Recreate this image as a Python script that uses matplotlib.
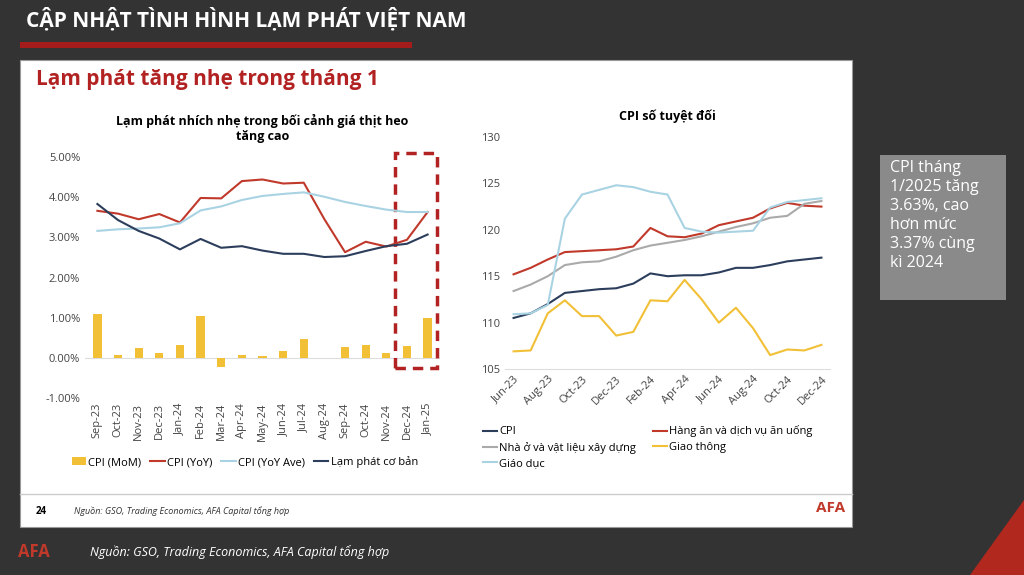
import matplotlib
matplotlib.use("Agg")
import matplotlib.pyplot as plt
from matplotlib.patches import Rectangle, Polygon
import numpy as np

plt.rcParams['font.family'] = ['Open Sans', 'DejaVu Sans']

months_l = ["Sep-23","Oct-23","Nov-23","Dec-23","Jan-24","Feb-24","Mar-24","Apr-24","May-24",
            "Jun-24","Jul-24","Aug-24","Sep-24","Oct-24","Nov-24","Dec-24","Jan-25"]
cpi_mom = [1.08,0.08,0.25,0.13,0.31,1.04,-0.23,0.07,0.05,0.17,0.48,0.0,0.27,0.33,0.13,0.29,0.98]
cpi_yoy = [3.66,3.59,3.45,3.58,3.37,3.98,3.97,4.40,4.44,4.34,4.36,3.45,2.63,2.89,2.77,2.94,3.63]
cpi_yoy_ave = [3.16,3.20,3.22,3.25,3.35,3.67,3.77,3.93,4.03,4.08,4.12,4.01,3.88,3.78,3.69,3.63,3.63]
core = [3.83,3.43,3.16,2.97,2.70,2.96,2.74,2.78,2.67,2.59,2.59,2.51,2.53,2.66,2.78,2.84,3.07]

months_r = ["Jun-23","Jul-23","Aug-23","Sep-23","Oct-23","Nov-23","Dec-23","Jan-24","Feb-24","Mar-24",
            "Apr-24","May-24","Jun-24","Jul-24","Aug-24","Sep-24","Oct-24","Nov-24","Dec-24"]
cpi_abs = [110.5,111.0,112.0,113.2,113.4,113.6,113.7,114.2,115.3,115.0,115.1,115.1,115.4,115.9,115.9,116.2,116.6,116.8,117.0]
food = [115.2,115.9,116.8,117.6,117.7,117.8,117.9,118.2,120.2,119.3,119.2,119.6,120.5,120.9,121.3,122.3,122.9,122.6,122.5]
housing = [113.4,114.1,115.0,116.2,116.5,116.6,117.1,117.8,118.3,118.6,118.9,119.3,119.8,120.3,120.7,121.3,121.5,122.8,123.1]
transport = [106.9,107.0,111.0,112.4,110.7,110.7,108.6,109.0,112.4,112.3,114.6,112.5,110.0,111.6,109.4,106.5,107.1,107.0,107.6]
education = [110.9,111.0,111.9,121.2,123.8,124.3,124.8,124.6,124.1,123.8,120.2,119.8,119.7,119.8,119.9,122.4,123.0,123.2,123.4]

W, H = 1024, 575
fig = plt.figure(figsize=(W/100, H/100), dpi=100)
fig.patch.set_facecolor("#333333")

def fx(x): return x / W
def fy(y): return 1 - y / H

def add_patch(p):
    p.set_zorder(-10)
    fig.patches.append(p)

# header
fig.text(fx(26), fy(20), "CẬP NHẬT TÌNH HÌNH LẠM PHÁT VIỆT NAM", color="white", fontsize=15,
         fontweight="bold", va="center")
add_patch(Rectangle((fx(20), fy(48)), fx(392), 6/H, transform=fig.transFigure,
                    facecolor="#a51c1c", edgecolor="none"))
# white panel
add_patch(Rectangle((fx(20), fy(527)), fx(832), 467/H, transform=fig.transFigure,
                    facecolor="white", edgecolor="#999999", lw=0.8))
fig.text(fx(36), fy(80), "Lạm phát tăng nhẹ trong tháng 1", color="#b22222", fontsize=15,
         fontweight="bold", va="center")
fig.add_artist(plt.Line2D([fx(20), fx(852)], [fy(494), fy(494)], color="#cccccc", lw=1))
fig.text(fx(36), fy(511), "24", fontsize=7, fontweight="bold", va="center")
fig.text(fx(74), fy(511), "Nguồn: GSO, Trading Economics, AFA Capital tổng hợp", fontsize=6.5,
         style="italic", va="center", color="#333333")
fig.text(fx(845), fy(508), "AFA", fontsize=11, fontweight="bold", color="#c0392b", ha="right", va="center")
# bottom
fig.text(fx(18), fy(552), "AFA", fontsize=12, fontweight="bold", color="#c0392b", va="center")
fig.text(fx(90), fy(552), "Nguồn: GSO, Trading Economics, AFA Capital tổng hợp", fontsize=9,
         style="italic", color="white", va="center")
add_patch(Polygon([(fx(970), fy(575)), (fx(1024), fy(500)), (fx(1024), fy(575))],
                  closed=True, transform=fig.transFigure, facecolor="#b0281e", edgecolor="none"))
# gray side box
add_patch(Rectangle((fx(880), fy(300)), fx(126), 145/H, transform=fig.transFigure,
                    facecolor="#8a8a8a", edgecolor="none"))
fig.text(fx(890), fy(160), "CPI tháng\n1/2025 tăng\n3.63%, cao\nhơn mức\n3.37% cùng\nkì 2024",
         color="white", fontsize=11.5, va="top", linespacing=1.25)

# left chart
ax = fig.add_axes([fx(85), fy(398), fx(355), (398-157)/H])
ax.patch.set_alpha(0)
x = np.arange(len(months_l))
b = ax.bar(x, cpi_mom, width=0.4, color="#f2c037", label="CPI (MoM)")
l1, = ax.plot(x, cpi_yoy, color="#c0392b", lw=1.5, label="CPI (YoY)")
l2, = ax.plot(x, cpi_yoy_ave, color="#a9d3e3", lw=1.5, label="CPI (YoY Ave)")
l3, = ax.plot(x, core, color="#2c3e5c", lw=1.5, label="Lạm phát cơ bản")
ax.set_ylim(-1, 5)
ax.set_xlim(-0.6, len(x) - 0.4)
ax.set_yticks(np.arange(-1, 6, 1))
ax.set_yticklabels([f"{v:.2f}%" for v in np.arange(-1, 6, 1)], fontsize=8, color="#444444")
ax.set_xticks(x)
ax.set_xticklabels(months_l, rotation=90, fontsize=8, color="#444444")
for s in ax.spines.values():
    s.set_visible(False)
ax.axhline(0, color="#dddddd", lw=0.8, zorder=0)
ax.tick_params(length=0)
ax.set_title("Lạm phát nhích nhẹ trong bối cảnh giá thịt heo\ntăng cao", fontsize=9,
             fontweight="bold", pad=12)
ax.add_patch(Rectangle((14.4, -0.25), 2.05, 5.35, fill=False, edgecolor="#b22222",
                       lw=2.5, ls=(0, (3, 2)), clip_on=False))
ax.legend([b, l1, l2, l3], ["CPI (MoM)", "CPI (YoY)", "CPI (YoY Ave)", "Lạm phát cơ bản"],
          loc="upper center", bbox_to_anchor=(0.45, -0.2), ncol=4, frameon=False,
          fontsize=8, handlelength=1.3, columnspacing=0.8, handletextpad=0.2)

# right chart
ax2 = fig.add_axes([fx(505), fy(369), fx(325), (369-137)/H])
ax2.patch.set_alpha(0)
xr = np.arange(len(months_r))
r1, = ax2.plot(xr, cpi_abs, color="#2c3e5c", lw=1.5)
r2, = ax2.plot(xr, food, color="#c0392b", lw=1.5)
r3, = ax2.plot(xr, housing, color="#aaaaaa", lw=1.5)
r4, = ax2.plot(xr, transport, color="#f2c037", lw=1.5)
r5, = ax2.plot(xr, education, color="#a9d3e3", lw=1.5)
ax2.set_ylim(105, 130)
ax2.set_yticks(range(105, 131, 5))
ax2.set_xlim(-0.5, len(xr) - 0.5)
ax2.set_xticks(xr[::2])
ax2.set_xticklabels(months_r[::2], rotation=45, ha="right", rotation_mode="anchor",
                    fontsize=8, color="#444444")
ax2.tick_params(length=0, labelsize=8, colors="#444444")
for s in ax2.spines.values():
    s.set_visible(False)
ax2.spines["bottom"].set_visible(True)
ax2.spines["bottom"].set_color("#dddddd")
ax2.set_title("CPI số tuyệt đối", fontsize=9, fontweight="bold", pad=12)
ax2.legend([r1, r3, r5, r2, r4],
           ["CPI", "Nhà ở và vật liệu xây dựng", "Giáo dục", "Hàng ăn và dịch vụ ăn uống", "Giao thông"],
           loc="upper left", bbox_to_anchor=(-0.1, -0.2), ncol=2, frameon=False,
           fontsize=8, handlelength=1.3, columnspacing=1.5, handletextpad=0.2, labelspacing=0.4)

fig.savefig("out.png", dpi=100, facecolor=fig.get_facecolor())
